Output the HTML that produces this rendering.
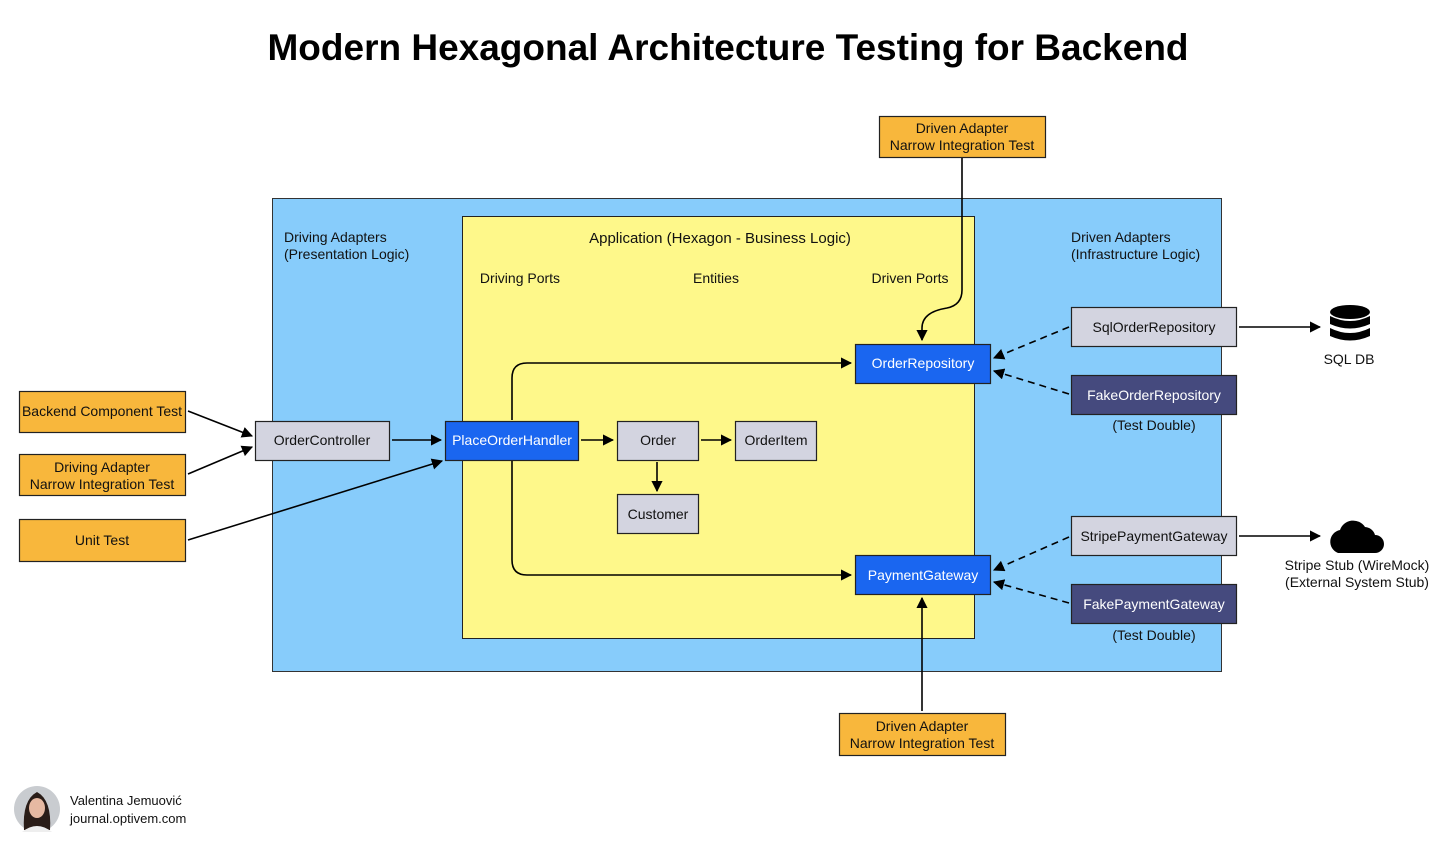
<!DOCTYPE html>
<html><head><meta charset="utf-8"><style>
html,body{margin:0;padding:0;background:#fff;}
svg{display:block;font-family:"Liberation Sans",sans-serif;}
</style></head><body>
<svg width="1456" height="853" viewBox="0 0 1456 853" xmlns="http://www.w3.org/2000/svg">
<defs>
<marker id="a" viewBox="0 0 10 10" refX="9" refY="5" markerWidth="7" markerHeight="7" orient="auto-start-reverse"><path d="M0,0L10,5L0,10z" fill="#000"/></marker>
</defs>
<text x="728" y="60" text-anchor="middle" font-size="37" font-weight="bold" fill="#000">Modern Hexagonal Architecture Testing for Backend</text>

<rect x="272.5" y="198.5" width="949" height="473" fill="#87CCFB" stroke="#333"/>
<rect x="462.5" y="216.5" width="512" height="422" fill="#FEF88A" stroke="#222"/>

<g font-size="14" fill="#111">
<text x="284" y="242">Driving Adapters</text>
<text x="284" y="259">(Presentation Logic)</text>
<text x="1071" y="242">Driven Adapters</text>
<text x="1071" y="259">(Infrastructure Logic)</text>
<text x="720" y="243" text-anchor="middle" font-size="15">Application (Hexagon - Business Logic)</text>
<text x="520" y="283" text-anchor="middle">Driving Ports</text>
<text x="716" y="283" text-anchor="middle">Entities</text>
<text x="910" y="283" text-anchor="middle">Driven Ports</text>
</g>

<!-- connectors -->
<g stroke="#000" stroke-width="1.6" fill="none">
<line x1="188" y1="411" x2="252" y2="436" marker-end="url(#a)"/>
<line x1="188" y1="474" x2="252" y2="447" marker-end="url(#a)"/>
<line x1="188" y1="540" x2="442" y2="461" marker-end="url(#a)"/>
<line x1="392" y1="440" x2="441" y2="440" marker-end="url(#a)"/>
<line x1="581" y1="440" x2="613" y2="440" marker-end="url(#a)"/>
<line x1="701" y1="440" x2="731" y2="440" marker-end="url(#a)"/>
<line x1="657" y1="462" x2="657" y2="491" marker-end="url(#a)"/>
<path d="M512,420 V378 Q512,363 527,363 H851" marker-end="url(#a)"/>
<path d="M512,461 V560 Q512,575 527,575 H851" marker-end="url(#a)"/>
<path d="M962,158 V290 Q962,305 947,308 Q922,312 922,328 V340" marker-end="url(#a)"/>
<line x1="922" y1="711" x2="922" y2="598" marker-end="url(#a)"/>
<line x1="1239" y1="327" x2="1320" y2="327" marker-end="url(#a)"/>
<line x1="1239" y1="536" x2="1320" y2="536" marker-end="url(#a)"/>
<g stroke-dasharray="7,5">
<line x1="1069" y1="327" x2="994" y2="358" marker-end="url(#a)"/>
<line x1="1069" y1="394" x2="994" y2="371" marker-end="url(#a)"/>
<line x1="1069" y1="537" x2="994" y2="570" marker-end="url(#a)"/>
<line x1="1069" y1="603" x2="994" y2="582" marker-end="url(#a)"/>
</g>
</g>

<!-- boxes -->
<g stroke="#222" stroke-width="1.2" font-size="14" text-anchor="middle">
<rect x="879.5" y="116.5" width="166" height="41" fill="#F8B73C"/>
<rect x="839.5" y="713.5" width="166" height="42" fill="#F8B73C"/>
<rect x="19.5" y="391.5" width="166" height="41" fill="#F8B73C"/>
<rect x="19.5" y="454.5" width="166" height="41" fill="#F8B73C"/>
<rect x="19.5" y="519.5" width="166" height="42" fill="#F8B73C"/>
<rect x="255.5" y="421.5" width="134" height="39" fill="#D3D4E0"/>
<rect x="445.5" y="421.5" width="133" height="39" fill="#1A66F0"/>
<rect x="617.5" y="421.5" width="81" height="39" fill="#D3D4E0"/>
<rect x="735.5" y="421.5" width="81" height="39" fill="#D3D4E0"/>
<rect x="617.5" y="494.5" width="81" height="39" fill="#D3D4E0"/>
<rect x="855.5" y="344.5" width="135" height="39" fill="#1A66F0"/>
<rect x="855.5" y="555.5" width="135" height="39" fill="#1A66F0"/>
<rect x="1071.5" y="307.5" width="165" height="39" fill="#D3D4E0"/>
<rect x="1071.5" y="375.5" width="165" height="39" fill="#454A7E"/>
<rect x="1071.5" y="516.5" width="165" height="39" fill="#D3D4E0"/>
<rect x="1071.5" y="584.5" width="165" height="39" fill="#454A7E"/>
</g>
<g font-size="14" text-anchor="middle" fill="#111">
<text x="962" y="133">Driven Adapter</text><text x="962" y="150">Narrow Integration Test</text>
<text x="922" y="731">Driven Adapter</text><text x="922" y="748">Narrow Integration Test</text>
<text x="102" y="416">Backend Component Test</text>
<text x="102" y="472">Driving Adapter</text><text x="102" y="489">Narrow Integration Test</text>
<text x="102" y="545">Unit Test</text>
<text x="322" y="445">OrderController</text>
<text x="512" y="445" fill="#fff">PlaceOrderHandler</text>
<text x="658" y="445">Order</text>
<text x="776" y="445">OrderItem</text>
<text x="658" y="519">Customer</text>
<text x="923" y="368" fill="#fff">OrderRepository</text>
<text x="923" y="580" fill="#fff">PaymentGateway</text>
<text x="1154" y="332">SqlOrderRepository</text>
<text x="1154" y="400" fill="#fff">FakeOrderRepository</text>
<text x="1154" y="430">(Test Double)</text>
<text x="1154" y="541">StripePaymentGateway</text>
<text x="1154" y="609" fill="#fff">FakePaymentGateway</text>
<text x="1154" y="640">(Test Double)</text>
<text x="1349" y="364">SQL DB</text>
<text x="1357" y="570">Stripe Stub (WireMock)</text>
<text x="1357" y="587">(External System Stub)</text>
</g>

<!-- DB icon -->
<g fill="#000">
<ellipse cx="1350" cy="312" rx="20" ry="7"/>
<path d="M1330,316 Q1350,326 1370,316 V324 Q1350,333 1330,324z"/>
<path d="M1330,328 Q1350,338 1370,328 V336 Q1350,345 1330,336z"/>
</g>
<!-- cloud -->
<path d="M1338,553 H1375 A9,9 0 0 0 1375,535 A11,11 0 0 0 1365,527 A14,14 0 0 0 1340,530 A12,12 0 0 0 1338,553z" fill="#000"/>

<!-- avatar -->
<circle cx="37" cy="809" r="23" fill="#c9ccd0"/>
<path d="M24,830 Q22,800 37,792 Q52,800 50,830z" fill="#2a1d18"/>
<ellipse cx="37" cy="808" rx="8" ry="10" fill="#e6b9a2"/>
<path d="M22,832 Q37,820 52,832" fill="#eee"/>
<text x="70" y="805" font-size="13" fill="#111">Valentina Jemuović</text>
<text x="70" y="823" font-size="13" fill="#111">journal.optivem.com</text>
</svg>
</body></html>
